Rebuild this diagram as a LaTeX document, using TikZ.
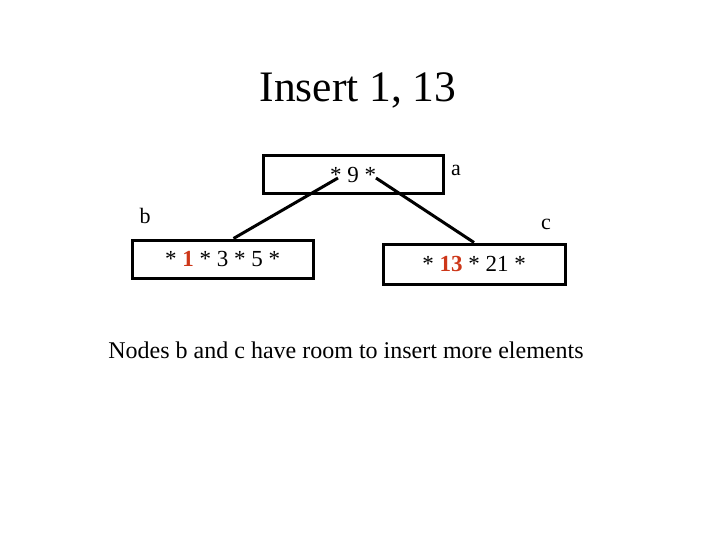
\documentclass[tikz,border=0pt]{standalone}
\usepackage{fontspec}
\setmainfont{Liberation Serif}
\usepackage{tikz}
\definecolor{keyred}{RGB}{205,55,25}
\tikzset{
  btnode/.style={draw, line width=3pt, minimum height=38pt, inner sep=0pt,
                 font=\fontsize{23}{26}\selectfont},
  lbl/.style={font=\fontsize{22}{25}\selectfont},
  link/.style={line width=3pt}
}
\begin{document}
\begin{tikzpicture}[x=1pt,y=-1pt]
\useasboundingbox (0,0) rectangle (720,540);
% title
\node[font=\fontsize{43.5}{48}\selectfont] (title) at (358,90) {Insert 1, 13};
% root
\node[btnode, minimum width=180pt] (a) at (353,175) {* 9 *};
\node[lbl] (la) at (456,170) {a};
% children
\node[btnode, minimum width=181pt] (b) at (222.5,259) {* {\color{keyred}\textbf{1}} * 3 * 5 *};
\node[btnode, minimum width=182pt, minimum height=40pt] (c) at (474,264) {* {\color{keyred}\textbf{13}} * 21 *};
\node[lbl] (lb) at (145,216) {b};
\node[lbl] (lc) at (546,224) {c};
% links
\coordinate (a1) at (338,178);
\coordinate (a2) at (376,178);
\draw[link] (a1) -- ([xshift=11pt]b.north);
\draw[link] (a2) -- (c.north);
% note
\node[font=\fontsize{24}{28}\selectfont] (note) at (346,350) {Nodes b and c have room to insert more elements};
\end{tikzpicture}
\end{document}
